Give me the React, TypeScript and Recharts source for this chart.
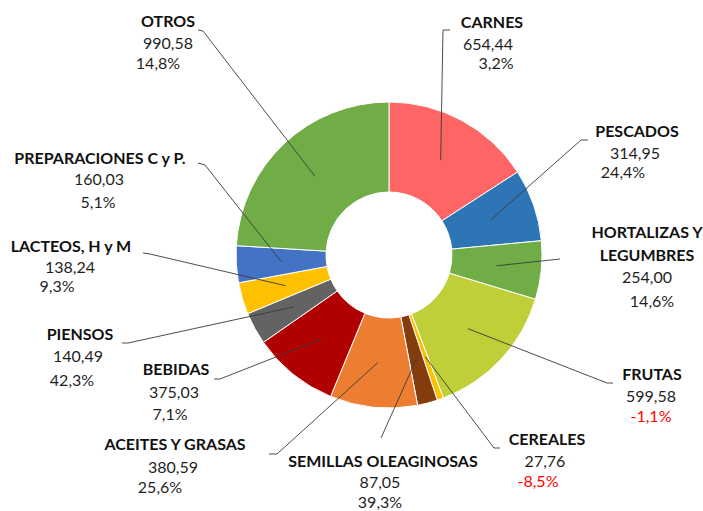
import React from 'react'
import { PieChart, Pie, Cell } from 'recharts'

// sectores, en orden horario desde las 12
const names = [
  'CARNES',
  'PESCADOS',
  'HORTALIZAS Y|LEGUMBRES',
  'FRUTAS',
  'CEREALES',
  'SEMILLAS OLEAGINOSAS',
  'ACEITES Y GRASAS',
  'BEBIDAS',
  'PIENSOS',
  'LACTEOS, H y M',
  'PREPARACIONES C y P.',
  'OTROS',
]
const values = [654.44, 314.95, 254.0, 599.58, 27.76, 87.05, 380.59, 375.03, 140.49, 138.24, 160.03, 990.58]
const changes = [3.2, 24.4, 14.6, -1.1, -8.5, 39.3, 25.6, 7.1, 42.3, 9.3, 5.1, 14.8]

const COLORS = [
  '#ff6565', '#2e75b6', '#70ad47', '#c0ce38', '#ffc000', '#843c0c',
  '#ed7d31', '#b00000', '#636363', '#ffc000', '#4472c4', '#70ad47',
]

// label placement: name x/y, value x/y, pct x/y, leader line points (text side first)
const labelLayout = [
  { x: 492, y: 21, vx: 488, vy: 43, px: 496, py: 62, line: [[450, 30], [443, 30]] },
  { x: 637, y: 130, vx: 635, vy: 152, px: 623, py: 171, line: [[588, 140], [581, 140]] },
  { x: 647, y: 231, vx: 647, vy: 276, px: 652, py: 300, line: [[560, 259]] },
  { x: 652, y: 373, vx: 651, vy: 395, px: 651, py: 415, line: [[613, 383], [607, 383]] },
  { x: 547, y: 438, vx: 545, vy: 460, px: 538, py: 480, line: [[500, 448], [494, 448]] },
  { x: 383, y: 460, vx: 380, vy: 481, px: 380, py: 501, line: [[381, 438]] },
  { x: 175, y: 443, vx: 173, vy: 466, px: 160, py: 486, line: [[269, 454], [277, 454]] },
  { x: 176, y: 368, vx: 174, vy: 391, px: 170, py: 413, line: [[214, 379], [220, 379]] },
  { x: 80, y: 333, vx: 78, vy: 355, px: 72, py: 379, line: [[122, 343], [128, 343]] },
  { x: 71, y: 245, vx: 70, vy: 266, px: 57, py: 285, line: [[143, 253], [150, 254]] },
  { x: 100, y: 157, vx: 99, vy: 178, px: 98, py: 201, line: [[198, 163], [205, 165]] },
  { x: 168, y: 20, vx: 168, vy: 42, px: 158, py: 62, line: [[198, 30], [203, 31]] },
]

const data = names.map((name, i) => ({ name, value: values[i], change: changes[i] }))

const fmt = (n: number, d: number) => n.toFixed(d).replace('.', ',')

const RADIAN = Math.PI / 180

const renderLabel = (props: any) => {
  const { cx, cy, midAngle, innerRadius, outerRadius, index } = props
  const lay = labelLayout[index]
  const r = (innerRadius + outerRadius) / 2
  const ix = cx + r * Math.cos(-midAngle * RADIAN)
  const iy = cy + r * Math.sin(-midAngle * RADIAN)
  const pts = [...lay.line, [ix, iy]].map((p) => p.join(',')).join(' ')
  const nameLines = names[index].split('|')
  const chg = changes[index]
  return (
    <g key={`lbl-${index}`}>
      <polyline points={pts} fill="none" stroke="#3a3a3a" strokeWidth={0.9} />
      {nameLines.map((t, k) => (
        <text key={k} x={lay.x} y={lay.y + k * 23} textAnchor="middle" dominantBaseline="central"
          fontWeight="bold" fontSize={16} fill="#111">
          {t}
        </text>
      ))}
      <text x={lay.vx} y={lay.vy} textAnchor="middle" dominantBaseline="central" fontSize={16} fill="#1f1f1f">
        {fmt(values[index], 2)}
      </text>
      <text x={lay.px} y={lay.py} textAnchor="middle" dominantBaseline="central" fontSize={16}
        fill={chg < 0 ? '#ff0000' : '#1f1f1f'}>
        {fmt(chg, 1)}%
      </text>
    </g>
  )
}

export default function App() {
  return (
    <div style={{ position: 'absolute', left: 0, top: 0, background: '#fff', fontFamily: 'Lato, "Open Sans", sans-serif' }}>
      <PieChart width={703} height={511} margin={{ top: 0, right: 0, bottom: 0, left: 0 }}>
        <Pie
          data={data}
          dataKey="value"
          nameKey="name"
          cx={389}
          cy={255}
          innerRadius={63}
          outerRadius={153}
          startAngle={90}
          endAngle={-270}
          stroke="#ffffff"
          strokeWidth={1}
          label={renderLabel}
          labelLine={false}
          isAnimationActive={false}
        >
          {data.map((entry, index) => (
            <Cell key={`cell-${index}`} fill={COLORS[index]} />
          ))}
        </Pie>
      </PieChart>
    </div>
  )
}
